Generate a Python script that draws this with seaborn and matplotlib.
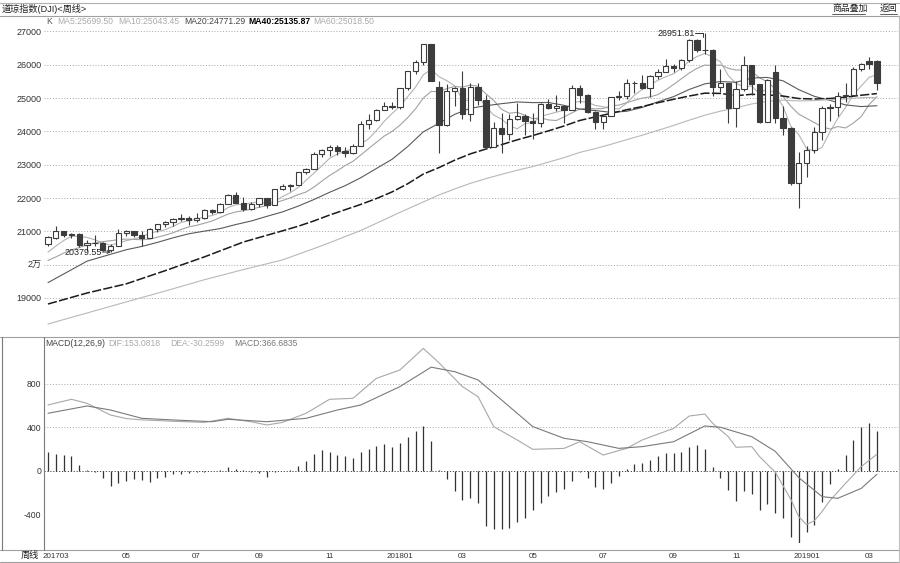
import numpy as np
import matplotlib
matplotlib.use("Agg")
import matplotlib.pyplot as plt
from matplotlib.lines import Line2D
import seaborn as sns

# ---------------- data (weekly, Feb-2017 .. Mar-2019) ----------------
OPEN = [20624.05, 20812.24, 21005.71, 20902.98, 20914.62, 20596.72, 20663.22, 20656.10, 20453.25, 20547.76,
        20940.51, 21006.94, 20896.61, 20804.84, 21080.28, 21206.29, 21271.97, 21384.28, 21394.76, 21349.63,
        21414.34, 21637.74, 21580.07, 21830.31, 22092.81, 21858.32, 21674.51, 21813.67, 21987.56, 21797.79,
        22268.34, 22349.59, 22405.09, 22773.67, 22871.72, 23328.63, 23434.19, 23539.19, 23422.21, 23358.24,
        23557.99, 24231.59, 24329.16, 24651.74, 24754.06, 24719.22, 25295.87, 25803.19, 26071.72, 26616.71,
        25337.00, 24190.90, 25219.38, 25309.99, 24538.06, 25335.74, 24946.51, 23533.20, 24103.11, 23932.76,
        24360.14, 24462.94, 24311.19, 24262.51, 24831.17, 24715.09, 24753.09, 24635.21, 25316.53, 25090.48,
        24580.89, 24271.41, 24456.48, 25019.41, 25058.12, 25451.06, 25462.58, 25313.14, 25669.32, 25790.35,
        25964.82, 25916.54, 26154.67, 26743.50, 26458.31, 26447.05, 25339.99, 25444.34, 24688.31, 25270.83,
        25989.30, 25413.22, 24285.95, 25780.00, 24388.95, 24100.51, 22445.37, 23062.40, 23433.16, 23995.95,
        24706.35, 24737.20, 25063.89, 25106.33, 25883.25, 26126.00, 26122.00]
HIGH = [20851, 21169, 21010, 20960, 20953, 20729, 20887, 20693, 20625, 21070,
        21033, 21012, 21000, 21112, 21225, 21305, 21391, 21535, 21454, 21562,
        21681, 21681, 21843, 22117, 22179, 22036, 21879, 22002, 22016, 22283,
        22419, 22419, 22777, 22905, 23368, 23485, 23602, 23602, 23531, 23617,
        24327, 24534, 24668, 24876, 24871, 25299, 25810, 26153, 26616.71, 26616.71,
        25520, 25432, 25333, 25800, 25449, 25449, 25085, 24279, 24539, 24525,
        24858, 24511, 24542, 24866, 24968, 25086, 24801, 25402, 25398, 25130,
        24601, 24486, 25031, 25214, 25562, 25507, 25692, 25683, 25888, 26167,
        26037, 26167, 26769, 26769, 26951.81, 26470, 25864, 25463, 25506, 26277,
        26008, 25430, 25577, 25980, 24773, 24125, 23381, 23549, 24121, 24750,
        24814, 25193, 25439, 25924, 26062, 26241, 26155]
LOW = [20575, 20757, 20834, 20797, 20517, 20412, 20573, 20405, 20379.55, 20547,
       20856, 20831, 20553, 20804, 20966, 21121, 21165, 21318, 21197, 21280,
       21363, 21514, 21562, 21830, 21843, 21600, 21656, 21736, 21709, 21797,
       22233, 22226, 22405, 22716, 22859, 23242, 23255, 23302, 23242, 23334,
       23555, 24067, 24309, 24651, 24682, 24660, 25248, 25710, 26005, 25505,
       23360, 24169, 24776, 24365, 24320, 24789, 23509, 23533, 23344, 23733,
       24352, 23896, 23760, 24128, 24667, 24627, 24242, 24635, 24843, 24563,
       24084, 24078, 24456, 24939, 24979, 25150, 25274, 25026, 25560, 25790,
       25797, 25847, 26076, 26399, 26338, 25053, 25177, 24268, 24122, 25214,
       25103, 24268, 24285, 24242, 23881, 22397, 21712.53, 22638, 23346, 23729,
       24307, 24450, 24883, 25050, 25816, 25866, 25252]
CLOSE = [20821.76, 21005.71, 20902.98, 20914.62, 20596.72, 20663.22, 20656.10, 20453.25, 20547.76, 20940.51,
         21006.94, 20896.61, 20804.84, 21080.28, 21206.29, 21271.97, 21384.28, 21394.76, 21349.63, 21414.34,
         21637.74, 21580.07, 21830.31, 22092.81, 21858.32, 21674.51, 21813.67, 21987.56, 21797.79, 22268.34,
         22349.59, 22405.09, 22773.67, 22871.72, 23328.63, 23434.19, 23539.19, 23422.21, 23358.24, 23557.99,
         24231.59, 24329.16, 24651.74, 24754.06, 24719.22, 25295.87, 25803.19, 26071.72, 26616.71, 25520.96,
         24190.90, 25219.38, 25309.99, 24538.06, 25335.74, 24946.51, 23533.20, 24103.11, 23932.76, 24360.14,
         24462.94, 24311.19, 24262.51, 24831.17, 24715.09, 24753.09, 24635.21, 25316.53, 25090.48, 24580.89,
         24271.41, 24456.48, 25019.41, 25058.12, 25451.06, 25462.58, 25313.14, 25669.32, 25790.35, 25964.82,
         25916.54, 26154.67, 26743.50, 26458.31, 26447.05, 25339.99, 25444.34, 24688.31, 25270.83, 25989.30,
         25413.22, 24285.95, 25538.46, 24388.95, 24100.51, 22445.37, 23062.40, 23433.16, 23995.95, 24706.35,
         24737.20, 25063.89, 25106.33, 25883.25, 26031.81, 26026.32, 25450.24]

MA5 = [20376, 20558, 20725, 20854, 20849, 20817, 20747, 20657, 20583, 20652,
       20721, 20769, 20840, 20946, 20999, 21052, 21149, 21267, 21321, 21363,
       21436, 21475, 21562, 21711, 21800, 21807, 21854, 21886, 21827, 21909,
       22044, 22162, 22319, 22534, 22746, 22963, 23190, 23319, 23416, 23462,
       23622, 23780, 24026, 24305, 24537, 24750, 25045, 25329, 25701, 25862,
       25641, 25524, 25372, 24956, 24919, 25070, 24733, 24491, 24370, 24175,
       24078, 24234, 24266, 24446, 24517, 24575, 24639, 24850, 24902, 24875,
       24779, 24743, 24683, 24677, 24851, 25089, 25261, 25391, 25537, 25640,
       25731, 25899, 26114, 26248, 26344, 26229, 26087, 25675, 25438, 25346,
       25361, 25131, 25301, 25123, 24745, 24152, 23907, 23486, 23407, 23528,
       23987, 24387, 24722, 25099, 25364, 25622, 25699.5]
MA10 = [20126, 20232, 20347, 20442, 20513, 20597, 20653, 20691, 20719, 20751,
        20769, 20758, 20749, 20765, 20826, 20887, 20959, 21054, 21134, 21181,
        21244, 21312, 21415, 21516, 21582, 21622, 21665, 21724, 21769, 21855,
        21926, 22008, 22103, 22181, 22328, 22504, 22676, 22819, 22975, 23104,
        23293, 23485, 23673, 23861, 24000, 24186, 24413, 24678, 25003, 25200,
        25196, 25285, 25351, 25329, 25391, 25356, 25129, 24932, 24663, 24547,
        24574, 24484, 24379, 24408, 24346, 24327, 24437, 24558, 24674, 24696,
        24677, 24691, 24767, 24790, 24863, 24934, 25002, 25037, 25107, 25246,
        25410, 25580, 25753, 25893, 25992, 25980, 25993, 25895, 25843, 25845,
        25795, 25609, 25488, 25281, 25046, 24757, 24519, 24394, 24265, 24137,
        24070, 24147, 24104, 24253, 24446, 24805, 25043.45]
MA20_WK = [0, 5] + list(range(10, 107, 2))
MA20 = [19461, 20107, 20448, 20548, 20670, 20806, 20927, 21007, 21082, 21204, 21312, 21452, 21585,
        21759, 21955, 22171, 22372, 22610, 22888, 23164, 23545, 23989, 24245, 24512, 24696, 24771,
        24833, 24885, 24865, 24869, 24783, 24669, 24626, 24573, 24605, 24720, 24891, 25044, 25260,
        25428, 25498, 25475, 25603, 25621, 25519, 25256, 25054, 24933, 24796, 24746, 24771.29]
MA40_WK = [0, 5, 10, 15, 20, 25] + list(range(30, 107, 2))
MA40 = [18819, 19150, 19424, 19821, 20234, 20681,
        21017, 21154, 21313, 21489, 21650, 21809, 21985, 22184, 22429, 22721,
        22915, 23136, 23326, 23471, 23603, 23748, 23877, 24017, 24164, 24329,
        24436, 24543, 24651, 24746, 24862, 24965, 25063, 25149, 25141, 25072,
        25115, 25097, 25062, 24988, 24973, 24989, 25028, 25087, 25135.87]
MA60_WK = [0, 5, 10, 15, 20, 25, 30, 35, 40, 45] + list(range(50, 107, 2))
MA60 = [18219, 18550, 18882, 19210, 19548, 19854, 20144, 20568, 21026, 21569,
        22093, 22273, 22440, 22583, 22711, 22834, 22945, 23079, 23213, 23370,
        23485, 23615, 23752, 23887, 24032, 24180, 24338, 24487, 24609, 24711,
        24825, 24902, 24940, 24916, 24926, 24954, 24974, 25014, 25018.5]

HIST = [171, 160, 150, 137, 55, 5, -8, -60, -134, -107,
        -88, -75, -85, -98, -67, -52, -30, -25, -15, -12,
        -8, -4, 8, 40, 15, 6, -6, -18, -52, -10,
        -3, 6, 50, 95, 156, 192, 170, 150, 137, 122,
        177, 201, 225, 247, 223, 259, 314, 365, 412, 275,
        10, -76, -180, -265, -244, -290, -503, -530, -534, -525,
        -464, -427, -360, -296, -226, -189, -165, -90, -12, -67,
        -143, -168, -110, -46, 18, 64, 76, 105, 137, 162,
        168, 177, 215, 238, 201, 34, -67, -170, -271, -180,
        -210, -357, -300, -381, -433, -600, -680, -560, -494, -281,
        -119, 18, 150, 284, 400, 442, 367]
DIF_WK = [0, 3, 5, 8, 10, 12, 16, 20, 23, 26, 28, 30, 33, 36, 39, 42, 45, 48, 50, 53, 55, 57, 60, 62,
          66, 68, 71, 74, 76, 80, 82, 84, 85, 87, 88, 90, 91, 93, 95, 96, 97, 98, 99, 100, 102, 104, 106]
DIF = [604, 656, 619, 512, 480, 468, 455, 445, 482, 450, 421, 445, 528, 656, 665, 848, 924, 1122, 990, 772,
       680, 406, 284, 198, 207, 268, 146, 207, 284, 390, 503, 521, 436, 314, 217, 223, 131, -10, -260, -418,
       -490, -455, -370, -270, -113, 40, 153.08]
DEA_WK = [0, 5, 8, 12, 16, 21, 23, 28, 33, 37, 40, 45, 49, 52, 55, 59, 62, 66, 69, 73, 76, 80, 84, 86,
          90, 93, 96, 99, 101, 104, 106]
DEA = [528, 595, 558, 482, 467, 451, 473, 451, 482, 558, 604, 772, 950, 909, 833, 589, 406, 299, 268, 207,
       223, 268, 412, 400, 314, 180, -60, -235, -250, -159, -30.26]

PRICE_TICKS = [19000, 20000, 21000, 22000, 23000, 24000, 25000, 26000, 27000]
PRICE_LABELS = ["19000", "2万", "21000", "22000", "23000", "24000", "25000", "26000", "27000"]
MACD_TICKS = [800, 400, 0, -400]
MACD_LABELS = ["800", "400", "0", "-400"]
MONTH_WK = [1, 10, 19, 27, 36, 45, 53, 62, 71, 80, 88, 97, 105]
MONTH_LABELS = ["201703", "05", "07", "09", "11", "201801", "03", "05", "07", "09", "11", "201901", "03"]

# ---------------- styling ----------------
sns.set_theme(style="white")
plt.rcParams['font.family'] = ['Liberation Sans', 'Noto Sans CJK SC', 'DejaVu Sans']
plt.rcParams['axes.unicode_minus'] = False

W, H = 900, 563
fig = plt.figure(figsize=(W / 100, H / 100), dpi=100)
fig.patch.set_facecolor("white")


def rect(x0, y0, x1, y1):
    return [x0 / W, 1 - y1 / H, (x1 - x0) / W, (y1 - y0) / H]


def fx(x):
    return x / W


def fy(y):
    return 1 - y / H


def hline(y, x0=0, x1=W, color="#a0a0a0", lw=0.8):
    fig.add_artist(Line2D([fx(x0), fx(x1)], [fy(y), fy(y)], transform=fig.transFigure, color=color, lw=lw))


def vline(x, y0, y1, color="#a0a0a0", lw=0.8):
    fig.add_artist(Line2D([fx(x), fx(x)], [fy(y0), fy(y1)], transform=fig.transFigure, color=color, lw=lw))


ax = fig.add_axes(rect(44, 19, 898, 336))
ax2 = fig.add_axes(rect(44, 338, 898, 543))
for a in (ax, ax2):
    a.set_facecolor("white")
    for s in a.spines.values():
        s.set_visible(False)
    a.set_xlim(-0.51, 108.7)

ax.set_ylim(17859, 27375)
ax2.set_ylim(-659, 1217)

CANDLE = "#3c3c3c"
GRID = dict(color="#9a9a9a", lw=0.6, ls=(0, (1.2, 2.2)), zorder=1)

# grid
for v in PRICE_TICKS:
    ax.axhline(v, **GRID)
for v in (800, 400):
    ax2.axhline(v, **GRID)
ax2.axhline(0, color="#444444", lw=0.7, ls=(0, (1.2, 1.8)), zorder=1)

# candles
o = np.array(OPEN)
c = np.array(CLOSE)
h = np.array(HIGH)
l = np.array(LOW)
wk = np.arange(len(c))
up = c >= o
ax.vlines(wk, l, h, color=CANDLE, lw=0.8, zorder=3)
ax.bar(wk[up], (c - o)[up], bottom=o[up], width=0.68, facecolor="white",
       edgecolor=CANDLE, linewidth=0.8, zorder=4)
ax.bar(wk[~up], (c - o)[~up], bottom=o[~up], width=0.68, facecolor=CANDLE,
       edgecolor=CANDLE, linewidth=0.8, zorder=4)

# moving averages
sns.lineplot(x=np.arange(len(MA5)), y=MA5, ax=ax, color="#b4b4b4", linewidth=0.8, zorder=2)
sns.lineplot(x=np.arange(len(MA10)), y=MA10, ax=ax, color="#a2a2a2", linewidth=0.8, zorder=2)
sns.lineplot(x=MA20_WK, y=MA20, ax=ax, color="#5a5a5a", linewidth=0.8, zorder=2)
sns.lineplot(x=MA40_WK, y=MA40, ax=ax, color="#1a1a1a", linewidth=1.1, zorder=2)
ax.lines[-1].set_linestyle((0, (6, 1.5)))
sns.lineplot(x=MA60_WK, y=MA60, ax=ax, color="#b8b8b8", linewidth=0.8, zorder=2)

# high / low annotations
imax = int(np.argmax(h))
hv = h[imax]
ax.text(imax - 1.3, hv, f"{hv:.2f}", ha="right", va="center", fontsize=6.4, color="#222222", zorder=6)
ax.plot([imax - 1.25, imax - 0.2, imax - 0.2], [hv, hv, hv - 110], color="#333333", lw=0.7, zorder=6)
imin = int(np.argmin(l))
lv = l[imin]
ax.text(imin - 1.15, lv, f"{lv:.2f}", ha="right", va="center", fontsize=6.4, color="#222222", zorder=6)
ax.annotate("", xy=(imin + 0.05, lv), xytext=(imin - 1.05, lv),
            arrowprops=dict(arrowstyle="->", lw=0.7, color="#333333", shrinkA=0, shrinkB=0,
                            mutation_scale=5), zorder=6)

# ticks
ax.set_yticks(PRICE_TICKS)
ax.set_yticklabels(PRICE_LABELS)
ax.tick_params(axis="y", length=0, pad=2, labelsize=6.5, labelcolor="#333333")
ax.tick_params(axis="x", bottom=False, labelbottom=False)

# MACD
ax2.vlines(wk, 0, HIST, color="#333333", lw=0.9, zorder=3)
sns.lineplot(x=DIF_WK, y=DIF, ax=ax2, color="#a8a8a8", linewidth=0.8, zorder=4)
sns.lineplot(x=DEA_WK, y=DEA, ax=ax2, color="#7a7a7a", linewidth=0.8, zorder=4)
ax2.set_yticks(MACD_TICKS)
ax2.set_yticklabels(MACD_LABELS)
ax2.tick_params(axis="y", length=0, pad=2, labelsize=6.2, labelcolor="#333333")
ax2.set_xticks(MONTH_WK)
ax2.set_xticklabels(MONTH_LABELS)
ax2.tick_params(axis="x", length=0, pad=7, labelsize=5.8, labelcolor="#333333")

# frame lines
hline(2.5, color="#b0b0b0")
hline(16, color="#a0a0a0")
hline(336.5, color="#a0a0a0")
hline(549.5, color="#a0a0a0")
hline(561.5, color="#a0a0a0")
vline(2, 337, 549.5, color="#7a7a7a")
vline(44, 337, 549.5, color="#7a7a7a")
vline(898.5, 16, 561.5, color="#c0c0c0")

# header texts
fig.text(fx(2), fy(8.5), "道琼指数(DJI)<周线>", fontsize=6.6, va="center", ha="left", color="#222222")
fig.text(fx(832), fy(8.5), "商品叠加", fontsize=6.4, va="center", ha="left", color="#222222")
fig.text(fx(880), fy(8.5), "返回", fontsize=6.4, va="center", ha="left", color="#222222")
hline(14, 832, 865, color="#444444", lw=0.6)
hline(14, 880, 897, color="#444444", lw=0.6)

legend_main = [(46, "K", "#555555", "normal"),
               (57, "MA5:25699.50", "#aaaaaa", "normal"),
               (118, "MA10:25043.45", "#aaaaaa", "normal"),
               (184, "MA20:24771.29", "#444444", "normal"),
               (248, "MA40:25135.87", "#000000", "bold"),
               (313, "MA60:25018.50", "#aaaaaa", "normal")]
for x0, t, col, wt in legend_main:
    fig.text(fx(x0), fy(22), t, fontsize=6.2, va="center", ha="left", color=col, fontweight=wt)

legend_macd = [(45, "MACD(12,26,9)", "#444444"),
               (108, "DIF:153.0818", "#aaaaaa"),
               (170, "DEA:-30.2599", "#aaaaaa"),
               (234, "MACD:366.6835", "#777777")]
for x0, t, col in legend_macd:
    fig.text(fx(x0), fy(343.5), t, fontsize=6.2, va="center", ha="left", color=col)

fig.text(fx(30), fy(555.5), "周线", fontsize=6.6, va="center", ha="center", color="#222222")

fig.savefig("out.png", dpi=100, facecolor="white")
